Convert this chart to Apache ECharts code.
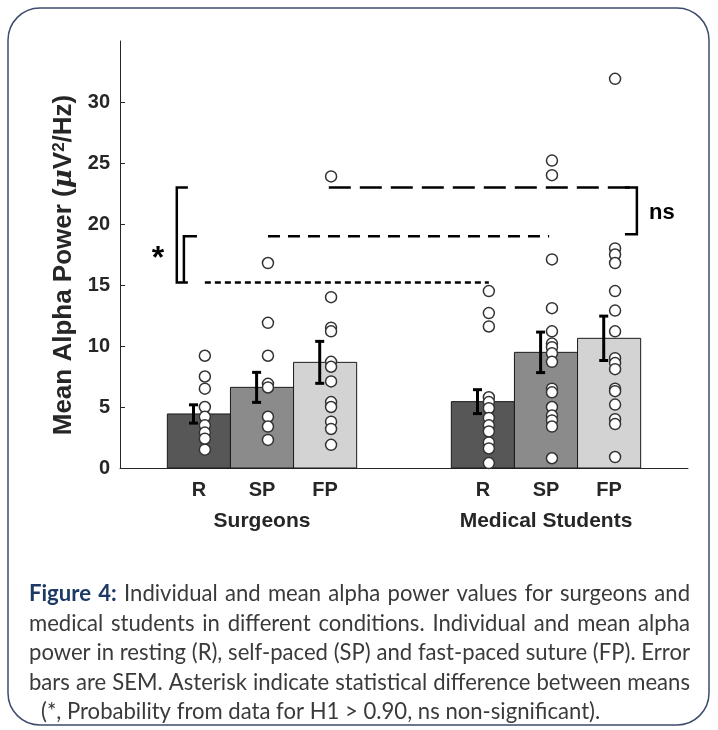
<!DOCTYPE html>
<html><head><meta charset="utf-8">
<script src="https://cdn.jsdelivr.net/npm/echarts@6/dist/echarts.min.js"></script>
<style>html,body{margin:0;padding:0;background:#fff}#c{width:718px;height:730px}</style>
</head><body><div id="c"></div>
<script>
// ---------- data ----------
const groups = ['Surgeons', 'Medical Students'];
const conditions = ['R', 'SP', 'FP'];
const meanSurgeons = [4.43, 6.61, 8.66];
const meanStudents = [5.44, 9.48, 10.63];
const semSurgeons = [0.75, 1.23, 1.72];
const semStudents = [0.98, 1.66, 1.82];
const surgeonsR  = [9.2, 7.5, 6.5, 5.0, 4.2, 3.5, 2.9, 2.4, 1.5];
const surgeonsSP = [16.8, 11.9, 9.2, 6.9, 6.6, 4.2, 3.4, 2.3];
const surgeonsFP = [23.9, 14.0, 11.5, 11.2, 8.7, 8.3, 7.1, 5.4, 5.0, 3.8, 3.2, 1.9];
const studentsR  = [14.5, 12.7, 11.6, 5.8, 5.4, 4.9, 4.1, 3.5, 3.0, 2.1, 1.6, 0.4];
const studentsSP = [25.2, 24.0, 17.1, 13.1, 11.2, 10.2, 9.9, 9.4, 8.7, 6.5, 6.2, 5.0, 4.3, 3.9, 3.4, 0.8];
const studentsFP = [31.9, 18.0, 17.5, 16.8, 14.5, 12.9, 11.2, 9.0, 8.6, 8.1, 6.5, 6.3, 5.2, 4.0, 3.6, 0.9];
const yTicks = [0, 5, 10, 15, 20, 25, 30];
// significance comparison levels (y values) and texts
const sigLevels = [15.2, 19.0, 23.0];
const sigTexts = ['*', 'ns'];
const captionLines = [
  'Figure 4: Individual and mean alpha power values for surgeons and',
  'medical students in different conditions. Individual and mean alpha',
  'power in resting (R), self-paced (SP) and fast-paced suture (FP). Error',
  'bars are SEM. Asterisk indicate statistical difference between means',
  '(*, Probability from data for H1 > 0.90, ns non-significant).'
];

// ---------- layout / style ----------
const BAR_W = 2 / 9;
const PT_OFF = 0.021, ERR_OFF = -0.019;
const barColors = ['#575757', '#8b8b8b', '#d3d3d3'];
const AX = '#262626';
const FONT = '"Liberation Sans", Arial, Helvetica, sans-serif';

const means = [meanSurgeons, meanStudents];
const sems = [semSurgeons, semStudents];
const pts = [[surgeonsR, surgeonsSP, surgeonsFP], [studentsR, studentsSP, studentsFP]];
const barX = [];
const barData = [], errData = [], ptData = [];
groups.forEach((g, gi) => {
  conditions.forEach((c, ci) => {
    const x = (gi + 1) + (ci - 1) * BAR_W;
    barX.push(x);
    barData.push([x, means[gi][ci], ci]);
    errData.push([x + ERR_OFF, means[gi][ci], sems[gi][ci]]);
    pts[gi][ci].forEach(v => ptData.push([x + PT_OFF, v]));
  });
});
const labelFor = v => { let best = 0; barX.forEach((x, i) => { if (Math.abs(x - v) < Math.abs(barX[best] - v)) best = i; }); return conditions[best % 3]; };

// significance lines (from a surgeon column to student column)
const sx = i => barX[i] + PT_OFF;
const dashLines = [
  { d: [[sx(0), sigLevels[0]], [sx(3), sigLevels[0]]], dash: [6, 4] },
  { d: [[sx(1), sigLevels[1]], [sx(4) - 0.01, sigLevels[1]]], dash: [12, 8] },
  { d: [[sx(2) - 0.008, sigLevels[2]], [2.32, sigLevels[2]]], dash: [22, 9] }
];
const brackets = [
  [[0.739, sigLevels[2]], [0.700, sigLevels[2]], [0.700, sigLevels[0]], [0.739, sigLevels[0]]],
  [[0.771, sigLevels[1]], [0.725, sigLevels[1]], [0.725, sigLevels[0]]],
  [[2.278, sigLevels[2]], [2.320, sigLevels[2]], [2.320, sigLevels[1] + 0.15], [2.278, sigLevels[1] + 0.15]]
];

function renderBar(params, api) {
  const x = api.value(0), y = api.value(1), ci = api.value(2);
  const w = api.size([BAR_W, 0])[0];
  const top = api.coord([x, y]), base = api.coord([x, 0]);
  return { type: 'rect', shape: { x: top[0] - w / 2, y: top[1], width: w, height: base[1] - top[1] },
    style: { fill: barColors[ci], stroke: '#1a1a1a', lineWidth: 1 } };
}
function renderErr(params, api) {
  const x = api.value(0), m = api.value(1), s = api.value(2);
  const hi = api.coord([x, m + s]), lo = api.coord([x, m - s]);
  const cap = 4.5, st = { stroke: '#000', lineWidth: 3 };
  return { type: 'group', children: [
    { type: 'line', shape: { x1: hi[0], y1: hi[1], x2: lo[0], y2: lo[1] }, style: st },
    { type: 'line', shape: { x1: hi[0] - cap, y1: hi[1], x2: hi[0] + cap, y2: hi[1] }, style: st },
    { type: 'line', shape: { x1: lo[0] - cap, y1: lo[1], x2: lo[0] + cap, y2: lo[1] }, style: st }
  ] };
}
function renderSigText(params, api) {
  const p = api.coord([api.value(0), api.value(1)]);
  const i = params.dataIndex;
  return { type: 'text', x: p[0], y: p[1],
    style: { text: sigTexts[i], font: 'bold ' + (i === 0 ? 32 : 22) + 'px ' + FONT, fill: '#000',
      textAlign: 'center', textVerticalAlign: 'middle' } };
}

const series = [
  { type: 'custom', renderItem: renderBar, data: barData, encode: { x: 0, y: 1 }, z: 2 },
  { type: 'scatter', data: ptData, symbol: 'circle', symbolSize: 11, z: 3,
    itemStyle: { color: '#ffffff', borderColor: '#333333', borderWidth: 1.5, opacity: 1 } },
  { type: 'custom', renderItem: renderErr, data: errData, encode: { x: 0, y: 1 }, z: 4 }
];
dashLines.forEach(l => series.push({ type: 'line', data: l.d, symbol: 'none', z: 5,
  lineStyle: { color: '#000', width: 2.5, type: l.dash } }));
brackets.forEach(b => series.push({ type: 'line', data: b, symbol: 'none', z: 5,
  lineStyle: { color: '#000', width: 2.5, join: 'miter' } }));
series.push({ type: 'custom', renderItem: renderSigText, z: 6, encode: { x: 0, y: 1 },
  data: [[0.634, 17.1], [2.408, 20.9]] });

// ---------- caption (justified, word by word) ----------
const CAP_FONT = 'Lato, "Open Sans", sans-serif';
const capX0 = 29, capX1 = 690, capY0 = 594, capDY = 29.5;
const mctx = document.createElement('canvas').getContext('2d');
let CAP_FS = 20;
const fontStr = b => (b ? 'bold ' : '') + CAP_FS + 'px ' + CAP_FONT;
const mw = (t, b) => { mctx.font = fontStr(b); return mctx.measureText(t).width; };
// font size chosen so the widest justified line fits with natural spacing
const lineW = (line, li) => line.split(' ').reduce((s, w, wi) => s + mw(w, li === 0 && wi < 2), 0) + mw(' ', false) * (line.split(' ').length - 1);
let maxW = 0;
captionLines.slice(0, 4).forEach((l, li) => { maxW = Math.max(maxW, lineW(l, li)); });
CAP_FS = Math.floor(20 * (capX1 - capX0) / maxW * 10) / 10;

const graphics = [{ type: 'rect', z: -10, shape: { x: 8, y: 8, width: 701, height: 717, r: 32 },
  style: { fill: 'none', stroke: '#3d4c6c', lineWidth: 1.5 } }];
captionLines.forEach((line, li) => {
  const words = line.split(' ').map((w, wi) => ({ t: w, b: li === 0 && wi < 2 }));
  const last = li === captionLines.length - 1;
  const x0 = last ? 41 : capX0;
  const total = words.reduce((s, w) => s + mw(w.t, w.b), 0);
  const gap = last ? mw(' ', false) : (capX1 - x0 - total) / (words.length - 1);
  let x = x0;
  words.forEach(w => {
    graphics.push({ type: 'text', x: x, y: capY0 + li * capDY, silent: true,
      style: { text: w.t, font: fontStr(w.b), fill: w.b ? '#1c3a63' : '#3a3a3a', textAlign: 'left', textVerticalAlign: 'middle' } });
    x += mw(w.t, w.b) + gap;
  });
});

const chart = echarts.init(document.getElementById('c'), null, { renderer: 'canvas' });
chart.setOption({
  animation: false,
  backgroundColor: '#fff',
  grid: { left: 120, right: 30, top: 41, bottom: 262, containLabel: false },
  xAxis: [
    { type: 'value', min: 0.5, max: 2.5, splitLine: { show: false },
      axisLine: { show: true, lineStyle: { color: AX, width: 1 } }, axisTick: { show: false },
      axisLabel: { customValues: barX, formatter: v => labelFor(v), margin: 12, color: AX,
        fontFamily: FONT, fontWeight: 'bold', fontSize: 20 } },
    { type: 'value', min: 0.5, max: 2.5, position: 'bottom', splitLine: { show: false },
      axisLine: { show: false }, axisTick: { show: false },
      axisLabel: { customValues: [1, 2], formatter: v => groups[Math.round(v) - 1], margin: 43, color: AX,
        fontFamily: FONT, fontWeight: 'bold', fontSize: 21 } }
  ],
  yAxis: { type: 'value', min: 0, max: 35, splitLine: { show: false },
    axisLine: { show: true, lineStyle: { color: AX, width: 1 } },
    axisTick: { show: true, inside: true, length: 5, customValues: yTicks, lineStyle: { color: AX } },
    axisLabel: { customValues: yTicks, margin: 10, color: AX, fontFamily: FONT, fontWeight: 'bold', fontSize: 20 },
    name: 'Mean Alpha Power ({mu|μ}V{sup|2}/Hz)', nameLocation: 'middle', nameGap: 36,
    nameTextStyle: { color: AX, fontFamily: FONT, fontWeight: 'bold', fontSize: 26, padding: [0, 21, 0, 0],
      rich: { mu: { fontFamily: 'DejaVu Serif, serif', fontStyle: 'italic', fontSize: 26, color: AX },
              sup: { fontFamily: FONT, fontWeight: 'bold', fontSize: 17, verticalAlign: 'top', lineHeight: 17, color: AX } } } },
  series: series,
  graphic: graphics
});
</script></body></html>
